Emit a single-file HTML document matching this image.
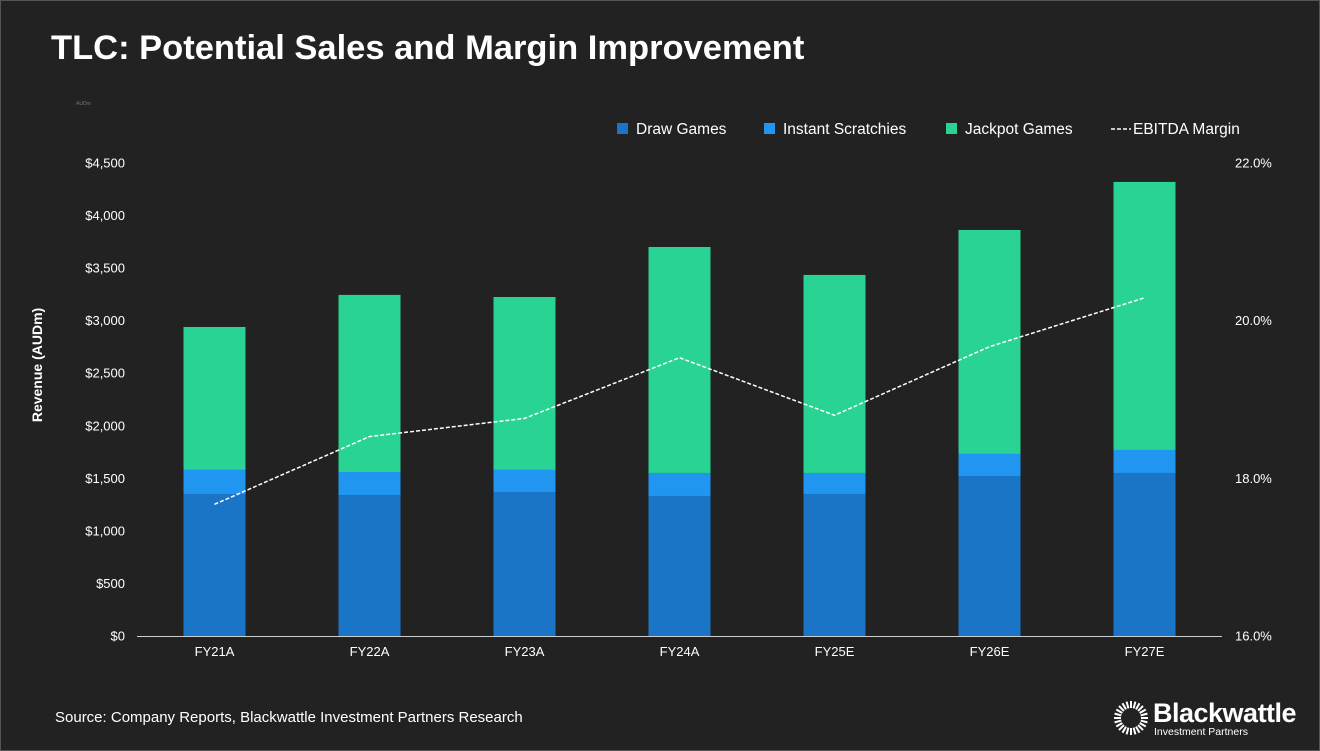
<!DOCTYPE html>
<html><head><meta charset="utf-8"><style>
body{margin:0;background:#222;}
#wrap{position:relative;width:1320px;height:751px;background:#222;overflow:hidden;font-family:"Liberation Sans",Arial,sans-serif;color:#fff;}
svg{position:absolute;left:0;top:0;}
</style></head><body>
<div id="wrap">
<svg id="chart" width="1320" height="751"></svg>
</div>
<script>
const categories=["FY21A","FY22A","FY23A","FY24A","FY25E","FY26E","FY27E"];
const drawGames=[1351,1341,1370,1332,1351,1522,1551];
const instantScratchies=[229,219,210,219,200,210,219];
const jackpotGames=[1360,1685,1645,2150,1884,2131,2550];
const ebitdaMargin=[17.67,18.53,18.76,19.53,18.8,19.67,20.29];
const leftTicks=[0,500,1000,1500,2000,2500,3000,3500,4000,4500];
const rightTicks=[16,18,20,22];

const NS="http://www.w3.org/2000/svg";
const svg=document.getElementById('chart');
function mk(t,a,txt){const e=document.createElementNS(NS,t);for(const k in a)e.setAttribute(k,a[k]);if(txt!==undefined)e.textContent=txt;svg.appendChild(e);return e;}
let fr=mk('rect',{x:0.5,y:0.5,width:1319,height:750,fill:'none',stroke:'#555','stroke-width':1});

const y0=636,yTop=163,x0=137,x1=1222;
const yL=v=>y0-(v/4500)*(y0-yTop);
const yR=v=>y0-((v-16)/6)*(y0-yTop);
const step=(x1-x0)/categories.length;
const xC=i=>x0+step*(i+0.5);
const bw=62;

let t=mk('text',{x:51,y:59,'font-size':34.5,'font-weight':'bold',fill:'#fff'},'TLC: Potential Sales and Margin Improvement');

t=mk('text',{x:76,y:105,'font-size':5,fill:'#777'},'AUDm');


leftTicks.forEach(v=>{const e=mk('text',{x:125,y:yL(v)+4.5,'font-size':13,fill:'#fff','text-anchor':'end'},'$'+v.toLocaleString('en-US'));
});
rightTicks.forEach(v=>{const e=mk('text',{x:1235,y:yR(v)+4.5,'font-size':13,fill:'#fff'},v.toFixed(1)+'%');
});

t=mk('text',{x:0,y:0,'font-size':14,'font-weight':'bold',fill:'#fff','text-anchor':'middle',transform:'translate(42,365) rotate(-90)'},'Revenue (AUDm)');


categories.forEach((c,i)=>{
  const x=xC(i)-bw/2;
  const d=drawGames[i],s=instantScratchies[i],j=jackpotGames[i];
  let r=mk('rect',{x:x,y:yL(d),width:bw,height:yL(0)-yL(d),fill:'#1b75c6'});
  
  r=mk('rect',{x:x,y:yL(d+s),width:bw,height:yL(d)-yL(d+s),fill:'#2196f0'});
  
  r=mk('rect',{x:x,y:yL(d+s+j),width:bw,height:yL(d+s)-yL(d+s+j),fill:'#29d393'});
  
  const e=mk('text',{x:xC(i),y:656,'font-size':13,fill:'#fff','text-anchor':'middle'},c);
  
});
let ax=mk('line',{x1:x0,x2:x1,y1:y0+0.5,y2:y0+0.5,stroke:'#ccc','stroke-width':1});


const pts=ebitdaMargin.map((v,i)=>xC(i)+','+yR(v)).join(' ');
let pl=mk('polyline',{points:pts,fill:'none',stroke:'#fff','stroke-width':1.5,'stroke-dasharray':'4,2'});


const leg=[["Draw Games",'#1b75c6',617],["Instant Scratchies",'#2196f0',764],["Jackpot Games",'#29d393',946]];
leg.forEach(l=>{let r=mk('rect',{x:l[2],y:123,width:11,height:11,fill:l[1]});

let e=mk('text',{x:l[2]+19,y:134,'font-size':15.5,fill:'#fff'},l[0]);
});
let ll=mk('line',{x1:1111,x2:1131,y1:129,y2:129,stroke:'#fff','stroke-width':1.5,'stroke-dasharray':'4,2'});

t=mk('text',{x:1133,y:134,'font-size':15.5,fill:'#fff'},'EBITDA Margin');


t=mk('text',{x:55,y:722,'font-size':15,fill:'#fff'},'Source: Company Reports, Blackwattle Investment Partners Research');


const cx=1131,cy=718;
for(let k=0;k<24;k++){const a=k*Math.PI/12;
 let l=mk('line',{x1:cx+10*Math.cos(a),y1:cy+10*Math.sin(a),x2:cx+17*Math.cos(a),y2:cy+17*Math.sin(a),stroke:'#fff','stroke-width':2});
 }
t=mk('text',{x:1153,y:722,'font-size':27,'font-weight':'bold',fill:'#fff','letter-spacing':-0.5},'Blackwattle');

t=mk('text',{x:1154,y:735,'font-size':10.5,fill:'#fff'},'Investment Partners');

</script>
</body></html>
